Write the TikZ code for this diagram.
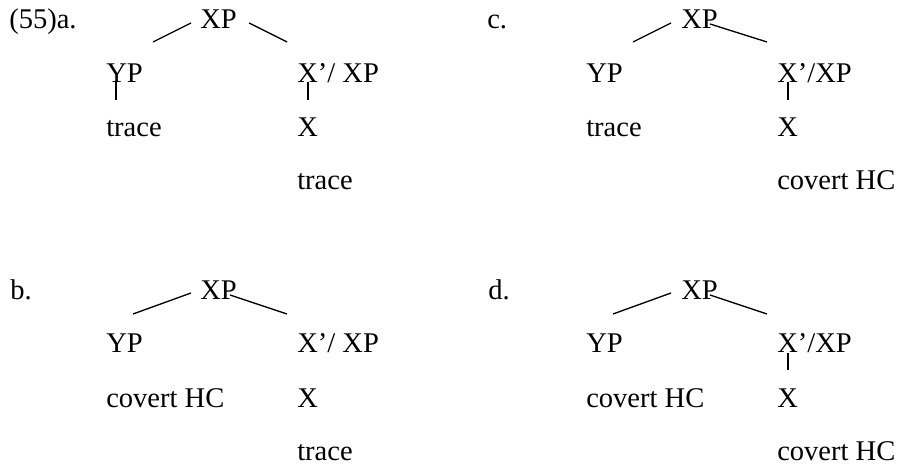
\documentclass[tikz,border=0pt]{standalone}
\usepackage{fontspec}
\setmainfont{Liberation Serif}
\usetikzlibrary{calc}

\begin{document}
\begin{tikzpicture}[
    x=0.75pt, y=-0.75pt,
    word/.style={anchor=base west, inner sep=0pt,
                 font=\fontsize{21.4}{26}\selectfont},
    branch/.style={line width=1pt},
]
\useasboundingbox (0,0) rectangle (902,466);
% (55)a.
\node[word] (a-num) at (9,29) {(55)a.};
\node[word] (a-xp) at (200,29) {XP};
\node[word] (a-yp) at (106,83) {YP};
\node[word] (a-xbar) at (297,83) {X’/ XP};
\node[word] (a-yp2) at (106,137) {trace};
\node[word] (a-x) at (297,137) {X};
\node[word] (a-x2) at (297,190) {trace};
\draw[branch] ($(a-xp.base west)+(-9,-6)$) -- ($(a-yp.base west)+(47,-41)$);
\draw[branch] ($(a-xp.base west)+(49,-6)$) -- ($(a-xbar.base west)+(-10,-41)$);
\draw[branch] ($(a-yp.base west)+(10,-1)$) -- ($(a-yp2.base west)+(10,-37)$);
\draw[branch] ($(a-xbar.base west)+(11,-1)$) -- ($(a-x.base west)+(11,-37)$);
% b.
\node[word] (b-num) at (10,300) {b.};
\node[word] (b-xp) at (200,300) {XP};
\node[word] (b-yp) at (106,352) {YP};
\node[word] (b-xbar) at (297,352) {X’/ XP};
\node[word] (b-yp2) at (106,407) {covert HC};
\node[word] (b-x) at (297,407) {X};
\node[word] (b-x2) at (297,460) {trace};
\draw[branch] ($(b-xp.base west)+(-9,-7)$) -- ($(b-yp.base west)+(27,-38)$);
\draw[branch] ($(b-xp.base west)+(30,-5)$) -- ($(b-xbar.base west)+(-10,-38)$);
% c.
\node[word] (c-num) at (487,29) {c.};
\node[word] (c-xp) at (681,29) {XP};
\node[word] (c-yp) at (586,83) {YP};
\node[word] (c-xbar) at (777,83) {X’/XP};
\node[word] (c-yp2) at (586,137) {trace};
\node[word] (c-x) at (777,137) {X};
\node[word] (c-x2) at (777,190) {covert HC};
\draw[branch] ($(c-xp.base west)+(-10,-6)$) -- ($(c-yp.base west)+(47,-41)$);
\draw[branch] ($(c-xp.base west)+(29,-5)$) -- ($(c-xbar.base west)+(-10,-41)$);
\draw[branch] ($(c-xbar.base west)+(11,-1)$) -- ($(c-x.base west)+(11,-37)$);
% d.
\node[word] (d-num) at (488,300) {d.};
\node[word] (d-xp) at (681,300) {XP};
\node[word] (d-yp) at (586,352) {YP};
\node[word] (d-xbar) at (777,352) {X’/XP};
\node[word] (d-yp2) at (586,407) {covert HC};
\node[word] (d-x) at (777,407) {X};
\node[word] (d-x2) at (777,460) {covert HC};
\draw[branch] ($(d-xp.base west)+(-10,-7)$) -- ($(d-yp.base west)+(27,-38)$);
\draw[branch] ($(d-xp.base west)+(29,-5)$) -- ($(d-xbar.base west)+(-10,-38)$);
\draw[branch] ($(d-xbar.base west)+(11,1)$) -- ($(d-x.base west)+(11,-37)$);
\end{tikzpicture}
\end{document}
